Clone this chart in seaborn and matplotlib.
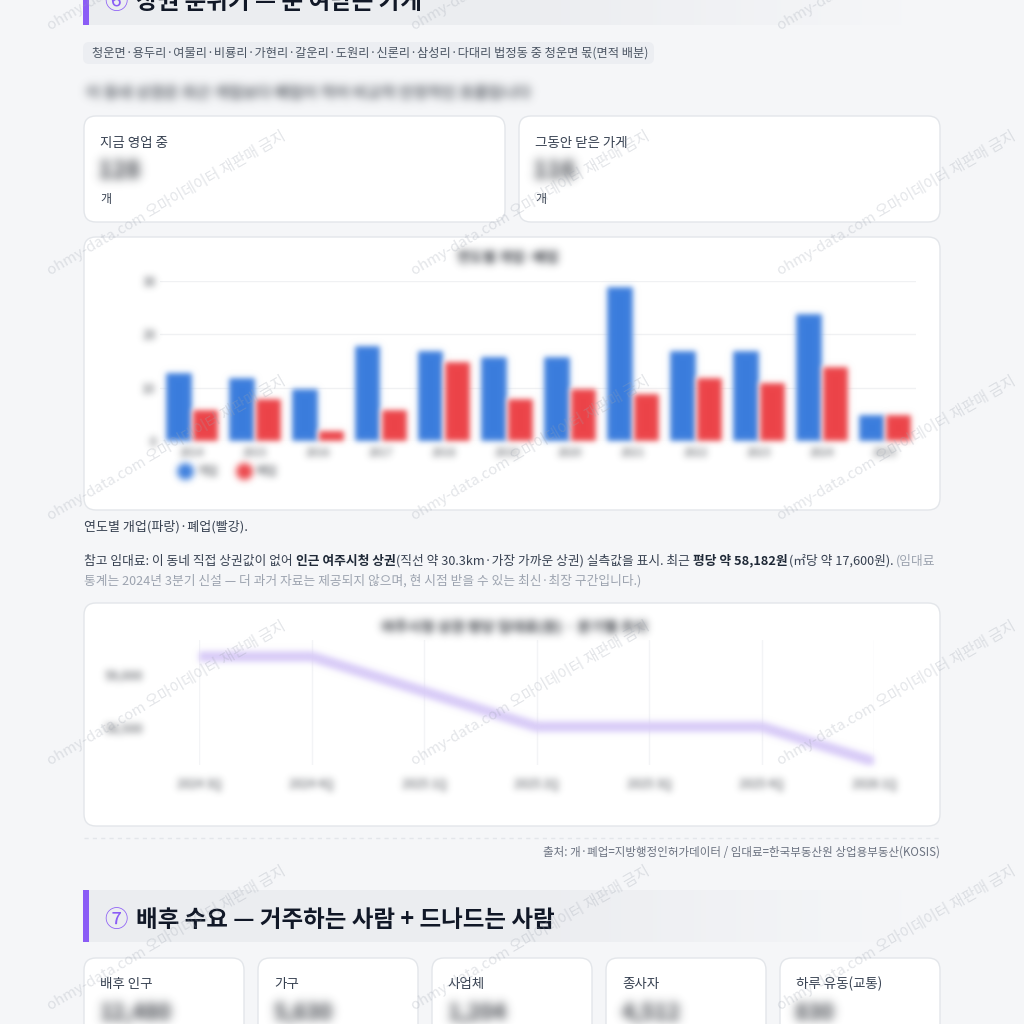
import numpy as np
import pandas as pd
import matplotlib
matplotlib.use("Agg")
import matplotlib.pyplot as plt
import seaborn as sns
from matplotlib.patches import FancyBboxPatch, Rectangle
from matplotlib.lines import Line2D

# ---------------- data ----------------
years = ["2014", "2015", "2016", "2017", "2018", "2019", "2020", "2021", "2022", "2023", "2024", "2025"]
opened = [13, 12, 10, 18, 17, 16, 16, 29, 17, 17, 24, 5]
closed = [6, 8, 2, 6, 15, 8, 10, 9, 12, 11, 14, 5]
bar_yticks = [0, 10, 20, 30]

quarters = ["2024 3Q", "2024 4Q", "2025 1Q", "2025 2Q", "2025 3Q", "2025 4Q", "2026 1Q"]
rent_pyeong = [59174, 59174, 58843, 58512, 58512, 58512, 58182]
rent_yticks = [58500, 59000]

demand_labels = ["배후 인구", "가구", "사업체", "종사자", "하루 유동(교통)"]
demand_values = ["12,480", "5,630", "1,204", "4,512", "830"]

# ---------------- setup ----------------
sns.set_theme(style="white")
plt.rcParams["font.family"] = ["Noto Sans CJK KR", "DejaVu Sans"]

W = H = 1024
BG = "#f5f6f8"
BLUE = "#3b7ddd"
RED = "#ec4449"
PURPLE = "#8b5cf6"
BLOB = "#2f333a"

fig = plt.figure(figsize=(W / 100, H / 100), dpi=100, facecolor=BG)


def pt(px):
    return px * 0.72


def make_blur(sigma):
    r = int(3 * sigma) + 1
    xs = np.arange(-r, r + 1)
    k = np.exp(-xs ** 2 / (2 * sigma ** 2))
    k /= k.sum()

    def filt(im, dpi):
        a = im[..., 3:4]
        pre = np.concatenate([im[..., :3] * a, a], axis=2)
        pre = np.pad(pre, ((r, r), (r, r), (0, 0)))
        out = np.zeros_like(pre)
        for i, w in enumerate(k):
            out += w * np.roll(pre, i - r, axis=0)
        pre = out
        out = np.zeros_like(pre)
        for i, w in enumerate(k):
            out += w * np.roll(pre, i - r, axis=1)
        alpha = out[..., 3:4]
        rgb = out[..., :3] / np.maximum(alpha, 1e-6)
        res = np.concatenate([np.clip(rgb, 0, 1), np.clip(alpha, 0, 1)], axis=2)
        return res, -r, -r

    return filt


def T(x, y, s, px=13, color="#374151", weight="normal", ha="left", va="center", blur=None, z=5, **kw):
    t = fig.text(x / W, 1 - y / H, s, fontsize=pt(px), color=color, fontweight=weight,
                 ha=ha, va=va, zorder=z, **kw)
    if blur:
        t.set_agg_filter(make_blur(blur))
    return t


def card(x0, y0, x1, y1, r=12, fc="white", ec="#e3e6ea", z=0.5):
    p = FancyBboxPatch((x0 / W, 1 - y1 / H), (x1 - x0) / W, (y1 - y0) / H,
                       boxstyle=f"round,pad=0,rounding_size={r / W}",
                       transform=fig.transFigure, fc=fc, ec=ec, lw=1, zorder=z)
    fig.add_artist(p)
    return p


def header(y0, y1, circ, title, baseline):
    ax_h = fig.add_axes([83 / W, 1 - y1 / H, (905 - 83) / W, (y1 - y0) / H], zorder=0.3)
    g = np.linspace(0, 1, 400)
    fade = np.clip((g - 0.55) / 0.45, 0, 1)
    c0 = np.array([0.925, 0.93, 0.943])
    c1 = np.array([0.961, 0.965, 0.973])
    rgb = c0[None, :] * (1 - fade[:, None]) + c1[None, :] * fade[:, None]
    ax_h.imshow(rgb[None, :, :], aspect="auto", extent=[0, 1, 0, 1])
    ax_h.axis("off")
    fig.add_artist(Rectangle((83 / W, 1 - y1 / H), 6 / W, (y1 - y0) / H,
                             transform=fig.transFigure, fc=PURPLE, ec="none", zorder=0.6))
    T(104, baseline, circ, px=23.5, color=PURPLE, va="baseline", z=6)
    T(136, baseline, title, px=23.5, color="#111827", weight="heavy", va="baseline", z=6)


# ---------------- section 6 header ----------------
header(-30, 25, "⑥", "상권 분위기 — 문 여닫는 가게", 9)

# tag pill
card(83, 42, 654, 64, r=6, fc="#eceef2", ec="none")
T(92, 53, "청운면·용두리·여물리·비룡리·가현리·갈운리·도원리·신론리·삼성리·다대리 법정동 중 청운면 몫(면적 배분)",
  px=12.2, color="#4b5563")

# blurred intro line
T(86, 93, "이 동네 상권은 최근 개업보다 폐업이 적어 비교적 안정적인 흐름입니다", px=15.5,
  color="#5a5f67", weight="bold", blur=4.5)

# stat cards
card(84, 116, 505, 222)
card(519, 116, 940, 222)
T(100, 143, "지금 영업 중", px=13.5, color="#374151")
T(98, 171, "128", px=24, color=BLOB, weight="heavy", blur=5)
T(100, 199, "개", px=12, color="#374151")
T(535, 143, "그동안 닫은 가게", px=13.5, color="#374151")
T(533, 171, "116", px=24, color=BLOB, weight="heavy", blur=5)
T(535, 199, "개", px=12, color="#374151")

# ---------------- bar chart ----------------
card(84, 237, 940, 510)
T(508, 258, "연도별 개업·폐업", px=14, color=BLOB, weight="heavy", ha="center", blur=4)

ax1 = fig.add_axes([160 / W, 1 - 441 / H, (916 - 160) / W, (441 - 281) / H], zorder=2)
ax1.patch.set_alpha(0)
df = pd.DataFrame({
    "연도": years * 2,
    "구분": ["개업"] * len(years) + ["폐업"] * len(years),
    "건수": opened + closed,
})
sns.barplot(data=df, x="연도", y="건수", hue="구분", palette=[BLUE, RED], saturation=1,
            width=0.84, ax=ax1, legend=False, zorder=3)
ax1.set_ylim(0, 30)
ax1.set_xlim(-0.5, len(years) - 0.5)
ax1.set_yticks(bar_yticks)
ax1.set_xlabel("")
ax1.set_ylabel("")
for s in ax1.spines.values():
    s.set_visible(False)
ax1.grid(axis="y", color="#f0f1f3", lw=1, zorder=0)
ax1.tick_params(axis="y", length=0, pad=3, labelsize=pt(12), labelcolor="#3d4148")
ax1.tick_params(axis="x", length=0, pad=5, labelsize=pt(11), labelcolor="#3d4148")
blur_bar = make_blur(2.8)
for p in ax1.patches:
    p.set_agg_filter(blur_bar)
for lbl in ax1.get_yticklabels() + ax1.get_xticklabels():
    lbl.set_agg_filter(make_blur(3.5))

handles = [Line2D([], [], marker="o", ls="", color=BLUE, markersize=11),
           Line2D([], [], marker="o", ls="", color=RED, markersize=11)]
leg = ax1.legend(handles, ["개업", "폐업"], loc="center left",
                 bbox_to_anchor=(168 / W, 1 - 472 / H), bbox_transform=fig.transFigure,
                 ncol=2, frameon=False, handletextpad=0.5, columnspacing=1.6,
                 fontsize=pt(12), handlelength=1.0)
for t in leg.get_texts():
    t.set_color("#3d4148")
    t.set_agg_filter(make_blur(3.5))
for h in leg.legend_handles:
    h.set_agg_filter(make_blur(3.5))

# caption and paragraph
T(84, 527, "연도별 개업(파랑)·폐업(빨강).", px=13, color="#374151")

renderer = fig.canvas.get_renderer()
segs = [
    ("참고 임대료: 이 동네 직접 상권값이 없어", "normal", "#374151", True),
    ("인근 여주시청 상권", "bold", "#1f2937", False),
    ("(직선 약 30.3km·가장 가까운 상권) 실측값을 표시. 최근", "normal", "#374151", True),
    ("평당 약 58,182원", "bold", "#1f2937", False),
    ("(㎡당 약 17,600원).", "normal", "#374151", True),
    ("(임대료", "normal", "#9ca3af", False),
]
PX = 12.75
x = 84
for s, wgt, col, sp in segs:
    t = T(x, 561, s, px=PX, color=col, weight=wgt)
    bb = t.get_window_extent(renderer=renderer)
    x = bb.x1 + (0.26 * PX if sp else 0.5)
T(84, 581, "통계는 2024년 3분기 신설 — 더 과거 자료는 제공되지 않으며, 현 시점 받을 수 있는 최신·최장 구간입니다.)",
  px=PX, color="#9ca3af")

# ---------------- line chart ----------------
card(84, 603, 940, 826)
T(514, 627, "여주시청 상권 평당 임대료(원) · 분기별 추이", px=14.5, color=BLOB, weight="heavy",
  ha="center", blur=4)

ax2 = fig.add_axes([199 / W, 1 - 765 / H, (874 - 199) / W, (765 - 640) / H], zorder=2)
ax2.patch.set_alpha(0)
dfl = pd.DataFrame({"분기": quarters, "평당임대료": rent_pyeong})
sns.lineplot(data=dfl, x="분기", y="평당임대료", sort=False, color="#d8cbf8", lw=7.5, ax=ax2,
             solid_capstyle="round", solid_joinstyle="round")
ax2.set_xlim(0, len(quarters) - 1)
ax2.set_ylim(58151, 59330)
ax2.set_yticks(rent_yticks)
ax2.set_yticklabels([f"{v:,}" for v in rent_yticks])
ax2.set_xlabel("")
ax2.set_ylabel("")
for s in ax2.spines.values():
    s.set_visible(False)
ax2.grid(axis="x", color="#f3f4f6", lw=1)
ax2.grid(axis="y", visible=False)
ax2.tick_params(axis="y", length=0, pad=40, labelsize=pt(12.5), labelcolor="#3d4148")
ax2.tick_params(axis="x", length=0, pad=9, labelsize=pt(12), labelcolor="#3d4148")
for ln in ax2.lines:
    ln.set_agg_filter(make_blur(3))
for lbl in ax2.get_yticklabels() + ax2.get_xticklabels():
    lbl.set_agg_filter(make_blur(3.5))

# separator + source
fig.add_artist(Line2D([84 / W, 940 / W], [1 - 838 / H] * 2, transform=fig.transFigure,
                      color="#e3e6ea", lw=1, ls=(0, (3, 3)), zorder=1))
T(940, 852, "출처: 개·폐업=지방행정인허가데이터 / 임대료=한국부동산원 상업용부동산(KOSIS)",
  px=11.5, color="#6b7280", ha="right")

# ---------------- section 7 ----------------
header(890, 942, "⑦", "배후 수요 — 거주하는 사람 + 드나드는 사람", 927)
for i, (lab, val) in enumerate(zip(demand_labels, demand_values)):
    x0 = 84 + i * 174
    card(x0, 958, x0 + 160, 1040)
    T(x0 + 16, 984, lab, px=13.5, color="#374151")
    T(x0 + 15, 1013, val, px=22, color=BLOB, weight="heavy", blur=5)

# ---------------- watermarks ----------------
for yy in [30, 275, 520, 765, 1010]:
    for xx in [50, 415, 780]:
        fig.text(xx / W, 1 - yy / H, "ohmy-data.com 오마이데이터 재판매 금지", rotation=30,
                 rotation_mode="anchor", ha="left", va="baseline", fontsize=pt(15),
                 color="#9ca3af", alpha=0.28, zorder=20)

fig.savefig("out.png", dpi=100, facecolor=BG)
